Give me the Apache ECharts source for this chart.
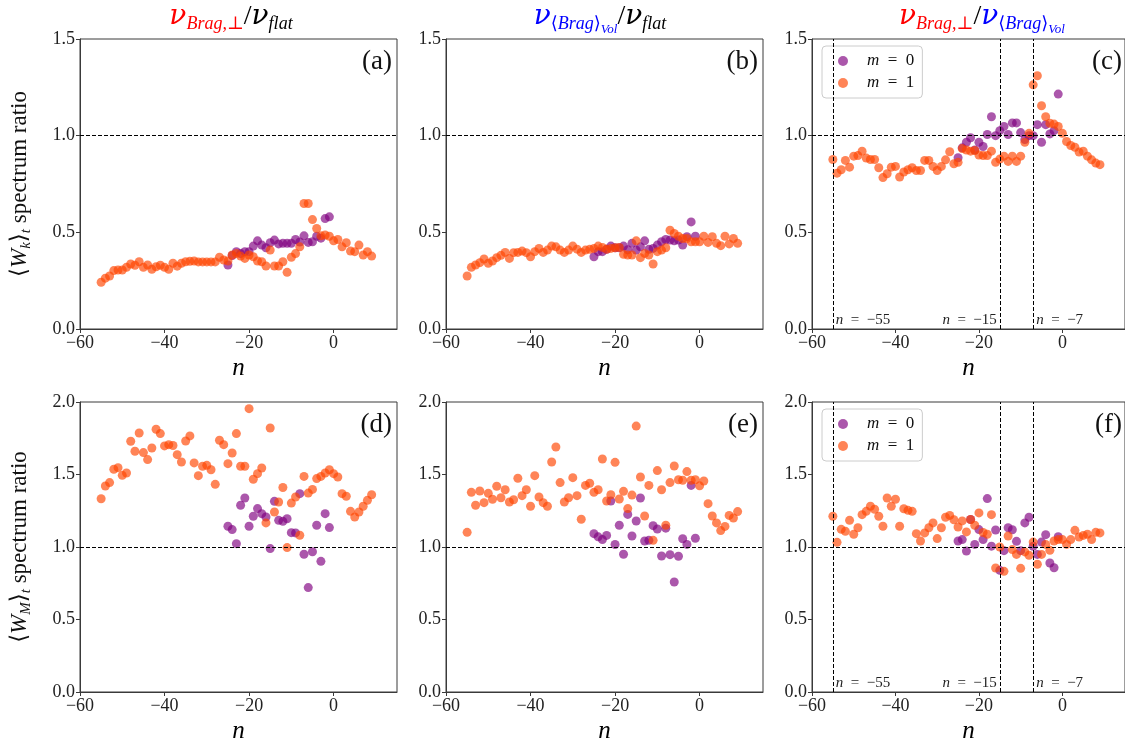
<!DOCTYPE html>
<html><head><meta charset="utf-8">
<script src="https://cdn.jsdelivr.net/npm/echarts@6/dist/echarts.min.js"></script>
<style>html,body{margin:0;padding:0;background:#fff}#c{width:1125px;height:745px}</style>
</head><body><div id="c"></div><script>
// ---------- data ----------
const nOrange = [-55,-54,-53,-52,-51,-50,-49,-48,-47,-46,-45,-44,-43,-42,-41,-40,-39,-38,-37,-36,
  -35,-34,-33,-32,-31,-30,-29,-28,-27,-26,-25,-24,-23,-22,-21,-20,-19,-18,-17,-16,
  -15,-14,-13,-12,-11,-10,-9,-8,-7,-6,-5,-4,-3,-2,-1,0,1,2,3,4,5,6,7,8,9];
const nPurple = [-25,-24,-23,-22,-21,-20,-19,-18,-17,-16,-15,-14,-13,-12,-11,-10,-9,-8,-7,-6,-5,-4,-3,-2,-1];
const markerN = [-55,-15,-7];
const markerSide = ['right','left','right'];
const seriesNames = ['m0','m1'];

const a_m1 = [0.242,0.263,0.274,0.302,0.305,0.305,0.319,0.336,0.33,0.348,
  0.319,0.331,0.309,0.322,0.33,0.319,0.309,0.34,0.325,0.34,
  0.348,0.35,0.352,0.347,0.347,0.347,0.347,0.347,0.371,0.357,
  0.352,0.383,0.391,0.377,0.365,0.383,0.374,0.352,0.348,0.326,
  0.408,0.326,0.326,0.348,0.293,0.371,0.39,0.425,0.649,0.649,
  0.566,0.52,0.482,0.486,0.48,0.456,0.463,0.425,0.446,0.403,
  0.40,0.434,0.383,0.40,0.377];
const a_m0 = [0.331,0.38,0.40,0.39,0.40,0.40,0.429,0.456,0.434,0.42,0.446,0.46,0.44,0.443,0.443,0.443,0.463,0.45,0.482,0.448,0.451,0.48,0.47,0.571,0.58];

const b_m1 = [0.274,0.319,0.331,0.343,0.362,0.34,0.352,0.369,0.381,0.396,
  0.365,0.395,0.396,0.403,0.395,0.374,0.40,0.417,0.396,0.408,
  0.429,0.425,0.408,0.396,0.408,0.429,0.413,0.396,0.408,0.412,
  0.417,0.429,0.422,0.412,0.417,0.42,0.422,0.386,0.383,0.383,
  0.456,0.369,0.391,0.383,0.336,0.40,0.408,0.42,0.511,0.494,
  0.48,0.468,0.468,0.451,0.451,0.451,0.48,0.448,0.477,0.443,
  0.431,0.48,0.44,0.468,0.443];
const b_m0 = [0.374,0.40,0.40,0.412,0.429,0.42,0.42,0.429,0.41,0.443,0.408,0.425,0.456,0.412,0.417,0.434,0.451,0.463,0.46,0.456,0.46,0.434,0.477,0.554,0.48];

const c_m1 = [0.877,0.806,0.824,0.872,0.837,0.894,0.897,0.92,0.884,0.877,
  0.877,0.834,0.783,0.803,0.837,0.841,0.786,0.812,0.824,0.834,
  0.82,0.82,0.872,0.872,0.841,0.82,0.841,0.875,0.917,0.855,
  0.862,0.933,0.926,0.92,0.923,0.9,0.897,0.897,0.92,0.862,
  0.879,0.894,0.867,0.894,0.867,0.894,0.966,1.012,1.263,1.31,
  1.155,1.098,1.064,1.06,1.048,1.012,0.97,0.949,0.94,0.915,
  0.92,0.894,0.875,0.858,0.85];
const c_m0 = [0.886,0.937,0.966,0.989,0.926,0.966,0.944,1.006,1.098,1.0,1.026,1.048,1.006,1.066,1.066,1.016,0.98,1.0,1.0,1.057,0.966,1.057,1.009,1.026,1.215];

const d_m1 = [1.333,1.421,1.444,1.536,1.547,1.494,1.51,1.729,1.66,1.786,
  1.651,1.603,1.683,1.812,1.782,1.697,1.706,1.70,1.637,1.586,
  1.731,1.766,1.58,1.492,1.557,1.563,1.533,1.432,1.736,1.706,
  1.575,1.648,1.782,1.557,1.557,1.954,1.467,1.506,1.545,1.166,
  1.821,1.241,1.31,1.41,0.996,1.303,1.345,1.081,1.487,1.372,
  1.397,1.472,1.487,1.51,1.533,1.506,1.483,1.368,1.35,1.246,
  1.207,1.241,1.281,1.322,1.36];
const d_m0 = [1.143,1.12,1.023,1.288,1.338,1.143,1.212,1.265,1.23,1.207,0.989,1.315,1.184,1.177,1.195,1.099,1.097,1.368,0.95,0.72,0.967,1.15,0.901,1.23,1.134];

const e_m1 = [1.101,1.377,1.288,1.386,1.306,1.37,1.329,1.419,1.34,1.395,
  1.31,1.326,1.474,1.354,1.395,1.281,1.492,1.345,1.306,1.281,
  1.586,1.69,1.444,1.31,1.34,1.478,1.354,1.191,1.425,1.44,
  1.377,1.395,1.607,1.317,1.36,1.584,1.331,1.384,1.265,1.358,
  1.834,1.483,1.214,1.425,1.046,1.527,1.395,1.15,1.444,1.559,
  1.464,1.46,1.52,1.46,1.464,1.422,1.455,1.299,1.214,1.166,
  1.113,1.142,1.218,1.2,1.244];
const e_m0 = [1.092,1.07,1.051,1.08,1.317,1.017,1.15,0.95,1.225,1.076,1.179,1.338,1.041,1.046,1.147,1.124,0.938,1.13,0.947,0.759,0.936,1.057,1.018,1.425,1.06];

const f_m1 = [1.212,1.032,1.122,1.108,1.184,1.088,1.133,1.223,1.246,1.281,
  1.26,1.212,1.143,1.338,1.281,1.329,1.143,1.264,1.253,1.246,
  1.092,1.041,1.097,1.133,1.166,1.058,1.133,1.205,1.218,1.188,
  1.138,1.18,1.104,1.19,1.15,1.235,1.1,1.088,1.223,0.855,
  1.0,0.832,1.076,0.982,0.949,0.853,0.966,0.943,1.034,0.881,
  0.949,1.018,0.977,1.041,1.051,1.051,1.018,1.051,1.115,1.069,
  1.08,1.088,1.051,1.101,1.097];
const f_m0 = [1.041,1.051,0.972,1.19,1.018,1.12,1.051,1.334,1.006,1.117,0.839,0.975,1.133,1.119,1.039,0.975,1.166,1.205,1.005,0.949,1.034,1.085,0.89,0.857,1.071];

const panelData = [[a_m0,a_m1],[b_m0,b_m1],[c_m0,c_m1],[d_m0,d_m1],[e_m0,e_m1],[f_m0,f_m1]];
const panelLetters = ['(a)','(b)','(c)','(d)','(e)','(f)'];
const yMax = [1.5,1.5,1.5,2,2,2];

// ---------- layout / style ----------
const FONT = "'Liberation Serif','DejaVu Serif',serif";
const NUFONT = "'DejaVu Serif','Liberation Serif',serif";
const LEFTS = [80,446,812], TOPS = [39,402], W = 317, H = 290;
const PURPLE = '#800080', ORANGE = '#ff4500', ALPHA = 0.66;
const AX = '#3a3a3a';
const EN = '\u2002';

function zip(xs, ys){ return xs.map((x,i)=>[x, ys[i]]); }
function fmtX(v){ return v < 0 ? '\u2212' + Math.abs(v) : String(v); }

const grids = [], xAxes = [], yAxes = [], series = [], graphics = [];
for (let p = 0; p < 6; p++) {
  const col = p % 3, row = Math.floor(p / 3);
  grids.push({left: LEFTS[col], top: TOPS[row], width: W, height: H, show: true, borderColor: AX, borderWidth: 1, backgroundColor: 'transparent'});
  xAxes.push({type: 'value', gridIndex: p, min: -60, max: 15, interval: 20,
    name: 'n', nameLocation: 'middle', nameGap: 27,
    nameTextStyle: {fontFamily: FONT, fontStyle: 'italic', fontSize: 25, color: '#000'},
    axisLine: {onZero: false, lineStyle: {color: AX, width: 1}}, axisTick: {length: 4, lineStyle: {color: AX}},
    axisLabel: {formatter: fmtX, showMaxLabel: false, fontFamily: FONT, fontSize: 18, color: '#222', margin: 5},
    splitLine: {show: false}});
  const yax = {type: 'value', gridIndex: p, min: 0, max: yMax[p], interval: 0.5,
    axisLine: {show: true, onZero: false, lineStyle: {color: AX, width: 1}}, axisTick: {show: true, length: 4, lineStyle: {color: AX}},
    axisLabel: {formatter: v => v.toFixed(1), fontFamily: FONT, fontSize: 18, color: '#222', margin: 5},
    splitLine: {show: false}};
  if (col === 0) {
    const sub = row === 0 ? 'k' : 'M';
    yax.name = '{m|\u27E8}{w|W}{s|' + sub + '}{m|\u27E9}{s|t}{m| spectrum ratio}';
    yax.nameLocation = 'middle';
    yax.nameGap = 44;
    yax.nameTextStyle = {fontFamily: FONT, fontSize: 23, color: '#111', rich: {
      m: {fontFamily: FONT, fontSize: 23, lineHeight: 32, verticalAlign: 'middle', color: '#111'},
      w: {fontFamily: FONT, fontSize: 23, fontStyle: 'italic', lineHeight: 32, verticalAlign: 'middle', color: '#111'},
      s: {fontFamily: FONT, fontSize: 15, fontStyle: 'italic', verticalAlign: 'bottom', padding: [0,0,2,0], color: '#111'}
    }};
  }
  yAxes.push(yax);

  const m1 = {type: 'scatter', name: 'm1', xAxisIndex: p, yAxisIndex: p, data: zip(nOrange, panelData[p][1]),
    symbolSize: 9, itemStyle: {color: ORANGE, opacity: ALPHA}, z: 3,
    markLine: {silent: true, symbol: 'none', label: {show: false},
      lineStyle: {color: '#000', type: [4, 2], width: 1, opacity: 1},
      data: [{yAxis: 1}]}};
  if (col === 2) {
    markerN.forEach(v => m1.markLine.data.push({xAxis: v}));
    m1.markPoint = {silent: true, symbol: 'circle', symbolSize: 0,
      label: {show: true, distance: 3, fontFamily: FONT, fontSize: 15, color: '#222',
        formatter: pp => '{i|n}' + EN + '=' + EN + fmtX(pp.data.nv),
        rich: {i: {fontFamily: FONT, fontStyle: 'italic', fontSize: 15, color: '#222'}}},
      data: markerN.map((v, k) => ({coord: [v, row === 0 ? 0.048 : 0.06], nv: v,
        label: {position: markerSide[k]}}))};
  }
  const m0 = {type: 'scatter', name: 'm0', xAxisIndex: p, yAxisIndex: p, data: zip(nPurple, panelData[p][0]),
    symbolSize: 9, itemStyle: {color: PURPLE, opacity: ALPHA}, z: 2};
  series.push(m0, m1);

  graphics.push({type: 'text', x: LEFTS[col] + W - (col === 2 ? 7 : 5), y: TOPS[row] + 23,
    style: {text: panelLetters[p], font: '27px ' + FONT, fill: '#111', align: 'right', verticalAlign: 'middle'}});
}

// titles
const RED = '#ff0000', BLUE = '#0000ff', BLK = '#000';
function nuStyle(c){ return {fill: c, fontSize: 28, fontFamily: NUFONT, fontStyle: 'italic', lineHeight: 40, verticalAlign: 'middle'}; }
function subStyle(c){ return {fill: c, fontSize: 18, fontFamily: FONT, fontStyle: 'italic', verticalAlign: 'bottom', padding: [0,0,4,0]}; }
function subUpStyle(c){ return {fill: c, fontSize: 18, fontFamily: FONT, verticalAlign: 'bottom', padding: [0,0,4,0]}; }
function ssStyle(c){ return {fill: c, fontSize: 13, fontFamily: FONT, fontStyle: 'italic', verticalAlign: 'bottom', padding: [0,0,1,0]}; }
const TR = {
  nr: nuStyle(RED), sr: subStyle(RED),
  nb: nuStyle(BLUE), sb: subStyle(BLUE), ub: subUpStyle(BLUE), ssb: ssStyle(BLUE),
  nk: nuStyle(BLK), sk: subStyle(BLK),
  sl: {fill: BLK, fontSize: 28, fontFamily: FONT, lineHeight: 40, verticalAlign: 'middle'}
};
const titles = [
  {x: 231, text: '{nr|\u03BD}{sr|Brag,\u22A5}{sl|/}{nk|\u03BD}{sk|flat}'},
  {x: 600, text: '{nb|\u03BD}{ub|\u27E8}{sb|Brag}{ub|\u27E9}{ssb|Vol}{sl|/}{nk|\u03BD}{sk|flat}'},
  {x: 982, text: '{nr|\u03BD}{sr|Brag,\u22A5}{sl|/}{nb|\u03BD}{ub|\u27E8}{sb|Brag}{ub|\u27E9}{ssb|Vol}'}
];
titles.forEach(t => graphics.push({type: 'text', x: t.x, y: 17,
  style: {text: t.text, rich: TR, align: 'center', verticalAlign: 'middle', font: '28px ' + FONT}}));

function legendAt(top){
  return {orient: 'vertical', left: 822, top: top, data: seriesNames, icon: 'circle',
    itemWidth: 10, itemHeight: 10, itemGap: 2, padding: [5, 8, 5, 16],
    backgroundColor: 'rgba(255,255,255,0.85)', borderColor: '#cccccc', borderWidth: 1, borderRadius: 4,
    selectedMode: false,
    formatter: nm => '{i|m}' + EN + '=' + EN + (nm === 'm0' ? '0' : '1'),
    textStyle: {fontFamily: FONT, fontSize: 17, color: '#111', lineHeight: 20, padding: [0, 0, 0, 14],
      rich: {i: {fontFamily: FONT, fontStyle: 'italic', fontSize: 17, color: '#111'}}}};
}

const chart = echarts.init(document.getElementById('c'), null, {renderer: 'canvas'});
chart.setOption({
  animation: false,
  backgroundColor: '#ffffff',
  grid: grids, xAxis: xAxes, yAxis: yAxes, series: series,
  legend: [legendAt(46), legendAt(409)],
  graphic: graphics
});
</script></body></html>
